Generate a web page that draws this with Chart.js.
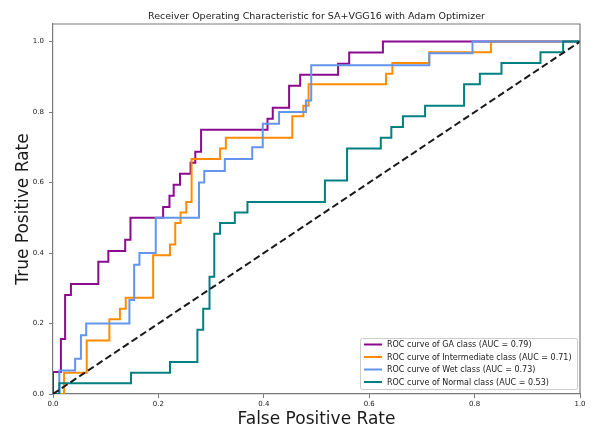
<!DOCTYPE html>
<html>
<head>
<meta charset="utf-8">
<script src="https://cdn.jsdelivr.net/npm/chart.js@4.4.1/dist/chart.umd.min.js"></script>
<style>
  html, body { margin: 0; padding: 0; background: #ffffff; }
  #wrap { width: 601px; height: 429px; }
</style>
</head>
<body>
<div id="wrap"><canvas id="roc" width="601" height="429"></canvas></div>
<script>
// ROC curves, one per class: each pair is the corner reached after a TPR jump
const classNames = ['GA', 'Intermediate', 'Wet', 'Normal'];
const aucValues = [0.79, 0.71, 0.73, 0.53];

const gaFpr = [0, 0, 0.015, 0.023, 0.034, 0.086, 0.105, 0.137, 0.147, 0.209, 0.221, 0.229, 0.241, 0.261, 0.270, 0.281, 0.407, 0.417, 0.448, 0.469, 0.541, 0.562, 0.626, 1.0];
const gaTpr = [0, 0.0625, 0.156, 0.281, 0.3125, 0.375, 0.406, 0.4375, 0.5, 0.531, 0.5625, 0.594, 0.625, 0.656, 0.6875, 0.75, 0.781, 0.8125, 0.875, 0.906, 0.9375, 0.969, 1.0, 1.0];

const intermediateFpr = [0, 0.021, 0.064, 0.107, 0.127, 0.138, 0.190, 0.222, 0.232, 0.242, 0.253, 0.263, 0.317, 0.328, 0.454, 0.475, 0.485, 0.632, 0.644, 0.714, 0.831, 1.0];
const intermediateTpr = [0, 0.0606, 0.1515, 0.212, 0.242, 0.273, 0.394, 0.424, 0.485, 0.515, 0.545, 0.667, 0.697, 0.727, 0.788, 0.818, 0.879, 0.909, 0.939, 0.970, 1.0, 1.0];

const wetFpr = [0, 0.012, 0.042, 0.053, 0.063, 0.145, 0.154, 0.164, 0.195, 0.277, 0.287, 0.326, 0.378, 0.398, 0.429, 0.480, 0.490, 0.714, 0.796, 1.0];
const wetTpr = [0, 0.0667, 0.1, 0.1667, 0.2, 0.267, 0.367, 0.4, 0.5, 0.6, 0.633, 0.667, 0.7, 0.767, 0.8, 0.833, 0.933, 0.967, 1.0, 1.0];

const normalFpr = [0, 0.012, 0.148, 0.222, 0.274, 0.285, 0.297, 0.306, 0.317, 0.345, 0.369, 0.516, 0.558, 0.622, 0.642, 0.664, 0.706, 0.780, 0.810, 0.851, 0.925, 0.968, 1.0];
const normalTpr = [0, 0.0303, 0.0606, 0.0909, 0.182, 0.242, 0.333, 0.455, 0.485, 0.515, 0.545, 0.606, 0.697, 0.727, 0.758, 0.788, 0.818, 0.879, 0.909, 0.939, 0.970, 1.0, 1.0];

// chance line
const chanceX = [0, 1];
const chanceY = [0, 1];

const xTickValues = [0, 0.2, 0.4, 0.6, 0.8, 1.0];
const yTickValues = [0, 0.2, 0.4, 0.6, 0.8, 1.0];

const curveColors = ['#8b0a8f', '#ff8c00', '#6495ed', '#008080'];

function toPoints(xs, ys) {
  return xs.map((x, i) => ({ x: x, y: ys[i] }));
}

const curves = [
  [gaFpr, gaTpr],
  [intermediateFpr, intermediateTpr],
  [wetFpr, wetTpr],
  [normalFpr, normalTpr]
];

// horizontal run to the next FPR, then the vertical TPR jump
const datasets = curves.map((c, i) => ({
  label: 'ROC curve of ' + classNames[i] + ' class (AUC = ' + aucValues[i].toFixed(2) + ')',
  data: toPoints(c[0], c[1]),
  borderColor: curveColors[i],
  backgroundColor: curveColors[i],
  borderWidth: 2,
  stepped: 'before',
  pointRadius: 0,
  fill: false,
  order: curves.length - i
}));

datasets.push({
  label: 'chance',
  data: toPoints(chanceX, chanceY),
  borderColor: '#1a1a1a',
  borderWidth: 2,
  borderDash: [7, 3.5],
  pointRadius: 0,
  fill: false,
  order: 0
});

const FONT = "'DejaVu Sans', 'Liberation Sans', sans-serif";

// frame, title, axis titles and the in-plot legend
const decorations = {
  id: 'decorations',
  afterDraw(chart) {
    const ctx = chart.ctx;
    const a = chart.chartArea;
    const cx = (a.left + a.right) / 2;
    const cy = (a.top + a.bottom) / 2;
    ctx.save();

    // top and right spines
    ctx.strokeStyle = '#7a7a7a';
    ctx.lineWidth = 1.2;
    ctx.beginPath();
    ctx.moveTo(a.left, a.top);
    ctx.lineTo(a.right, a.top);
    ctx.lineTo(a.right, a.bottom);
    ctx.stroke();

    ctx.fillStyle = '#1a1a1a';
    ctx.textAlign = 'center';
    ctx.textBaseline = 'alphabetic';
    ctx.font = '9.5px ' + FONT;
    ctx.fillText('Receiver Operating Characteristic for SA+VGG16 with Adam Optimizer', cx, 19);

    ctx.font = '17px ' + FONT;
    ctx.fillText('False Positive Rate', cx, 424);

    ctx.save();
    ctx.translate(28, cy);
    ctx.rotate(-Math.PI / 2);
    ctx.fillText('True Positive Rate', 0, 0);
    ctx.restore();

    // legend box
    const lx = 360, ly = 338, lw = 217, lh = 51;
    ctx.fillStyle = 'rgba(255,255,255,0.85)';
    ctx.strokeStyle = '#cccccc';
    ctx.lineWidth = 1;
    ctx.beginPath();
    ctx.roundRect(lx + 0.5, ly + 0.5, lw, lh, 2);
    ctx.fill();
    ctx.stroke();

    ctx.font = '8px ' + FONT;
    ctx.textAlign = 'left';
    ctx.textBaseline = 'middle';
    for (let i = 0; i < classNames.length; i++) {
      const ds = chart.data.datasets[i];
      const y = ly + 6.5 + i * 12.5;
      ctx.strokeStyle = ds.borderColor;
      ctx.lineWidth = 2;
      ctx.beginPath();
      ctx.moveTo(lx + 4, y);
      ctx.lineTo(lx + 22, y);
      ctx.stroke();
      ctx.fillStyle = '#1a1a1a';
      ctx.fillText(ds.label, lx + 27, y + 0.5);
    }
    ctx.restore();
  }
};

new Chart(document.getElementById('roc'), {
  type: 'line',
  data: { datasets: datasets },
  options: {
    responsive: false,
    animation: false,
    devicePixelRatio: 1,
    layout: { padding: { left: 0, top: 24, right: 21, bottom: 0 } },
    plugins: {
      legend: { display: false },
      title: { display: false },
      tooltip: { enabled: false }
    },
    scales: {
      x: {
        type: 'linear',
        min: 0,
        max: 1,
        afterFit(scale) { scale.height = 35; },
        afterBuildTicks(scale) { scale.ticks = xTickValues.map(v => ({ value: v })); },
        border: { display: true, color: '#7a7a7a', width: 1.2 },
        grid: { drawOnChartArea: false, drawTicks: true, tickLength: 4, color: '#7a7a7a' },
        ticks: {
          padding: 2,
          color: '#222',
          font: { family: FONT, size: 7 },
          maxRotation: 0,
          callback: v => Number(v).toFixed(1)
        }
      },
      y: {
        type: 'linear',
        min: 0,
        max: 1.05,
        afterFit(scale) { scale.width = 53; },
        afterBuildTicks(scale) { scale.ticks = yTickValues.map(v => ({ value: v })); },
        border: { display: true, color: '#7a7a7a', width: 1.2 },
        grid: { drawOnChartArea: false, drawTicks: true, tickLength: 4, color: '#7a7a7a' },
        ticks: {
          padding: 5,
          color: '#222',
          font: { family: FONT, size: 7 },
          callback: v => Number(v).toFixed(1)
        }
      }
    }
  },
  plugins: [decorations]
});
</script>
</body>
</html>
